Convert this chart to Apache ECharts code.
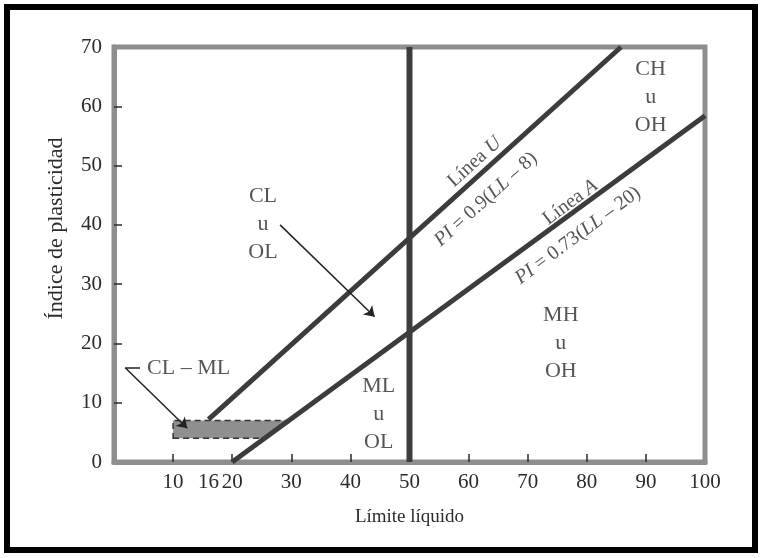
<!DOCTYPE html>
<html>
<head>
<meta charset="utf-8">
<script src="https://cdn.jsdelivr.net/npm/echarts@6/dist/echarts.min.js"></script>
<style>
  html, body { margin: 0; background: #fff; }
  #chart { width: 764px; height: 558px; }
</style>
</head>
<body>
<div id="chart"></div>
<script>
// ejes
const xTickValues = [10, 20, 30, 40, 50, 60, 70, 80, 90];
const xLabelValues = [10, 16, 20, 30, 40, 50, 60, 70, 80, 90, 100];
const yTickValues = [10, 20, 30, 40, 50, 60];
// lineas del grafico de plasticidad
const lineU = [[16, 7.2], [85.8, 70]];      // PI = 0.9(LL - 8)
const lineA = [[20, 0], [100, 58.4]];       // PI = 0.73(LL - 20)
const lineLL50 = [[50, 0], [50, 70]];
const zoneCLML = [[10, 4], [25.5, 4], [29.6, 7], [10, 7]];
// textos de zonas [LL, PI, texto]
const zoneLabels = [
  [25.2, 40.1, 'CL\nu\nOL'],
  [44.8, 8.0, 'ML\nu\nOL'],
  [75.6, 20.0, 'MH\nu\nOH'],
  [90.8, 61.6, 'CH\nu\nOH']
];
// textos girados [LL, PI, texto, angulo]
const lineLabels = [
  [61.0, 50.6, 'Línea {i|U}', 42],
  [62.9, 44.3, '{i|PI} = 0.9({i|LL} – 8)', 42],
  [77.2, 43.8, 'Línea {i|A}', 36.5],
  [78.5, 38.2, '{i|PI} = 0.73({i|LL} – 20)', 36.5]
];
// flechas
const arrowCLOL = [[28.1, 40], [44.1, 24.5]];
const leaderCLML = [[4.4, 15.9], [1.9, 15.9], [12.4, 5.7]];

const serif = 'Liberation Serif';
const ink = '#2b2b2b';
const lineCol = '#3c3c3c';
const frameCol = '#8e8e8e';

const myChart = echarts.init(document.getElementById('chart'));
myChart.setOption({
  animation: false,
  textStyle: { fontFamily: serif },
  grid: {
    left: 114, right: 59, top: 47, bottom: 96,
    show: true, borderColor: frameCol, borderWidth: 5
  },
  xAxis: {
    type: 'value', min: 0, max: 100,
    name: 'Límite líquido', nameLocation: 'middle', nameGap: 46,
    nameTextStyle: { fontFamily: serif, fontSize: 19, color: ink },
    axisLine: { show: true, lineStyle: { color: frameCol, width: 5 } },
    axisTick: { show: true, inside: true, length: 8, customValues: xTickValues,
      lineStyle: { color: ink, width: 1.5 } },
    axisLabel: { customValues: xLabelValues, margin: 10, fontFamily: serif, fontSize: 21, color: ink },
    splitLine: { show: false }
  },
  yAxis: {
    type: 'value', min: 0, max: 70, interval: 10,
    name: 'Índice de plasticidad', nameLocation: 'middle', nameGap: 47, nameRotate: 90,
    nameTextStyle: { fontFamily: serif, fontSize: 22, color: ink, padding: [0, 0, 0, 52] },
    axisLine: { show: true, lineStyle: { color: frameCol, width: 5 } },
    axisTick: { show: true, inside: true, length: 8, customValues: yTickValues,
      lineStyle: { color: ink, width: 1.5 } },
    axisLabel: { margin: 12, fontFamily: serif, fontSize: 21, color: ink },
    splitLine: { show: false }
  },
  graphic: [{
    type: 'rect', shape: { x: 7, y: 7, width: 748, height: 543 },
    style: { fill: 'none', stroke: '#000', lineWidth: 6 }, silent: true
  }],
  series: [
    {
      type: 'custom',
      data: [0],
      renderItem: (params, api) => ({
        type: 'polygon',
        shape: { points: zoneCLML.map(p => api.coord(p)) },
        style: { fill: '#8f8f8f', stroke: '#333', lineWidth: 1.5, lineDash: [6, 4] }
      }),
      z: 2
    },
    {
      type: 'line', data: lineA, showSymbol: false, symbol: 'none',
      lineStyle: { color: lineCol, width: 5 }, z: 3
    },
    {
      type: 'line', data: lineU, showSymbol: false, symbol: 'none',
      lineStyle: { color: lineCol, width: 5 }, z: 3
    },
    {
      type: 'line', data: lineLL50, showSymbol: false, symbol: 'none',
      lineStyle: { color: lineCol, width: 6 }, z: 3
    },
    {
      type: 'line', data: [], symbol: 'none',
      markLine: {
        silent: true, animation: false,
        label: { show: false },
        lineStyle: { color: '#222', width: 1.5, type: 'solid' },
        data: [
          [{ coord: arrowCLOL[0], symbol: 'none' }, { coord: arrowCLOL[1], symbol: 'arrow', symbolSize: 10 }],
          [{ coord: leaderCLML[0], symbol: 'none' }, { coord: leaderCLML[1], symbol: 'none' }],
          [{ coord: leaderCLML[1], symbol: 'none' }, { coord: leaderCLML[2], symbol: 'arrow', symbolSize: 10 }]
        ]
      }
    },
    {
      type: 'scatter', symbolSize: 0, z: 5,
      data: zoneLabels.map(d => [d[0], d[1]]),
      label: {
        show: true, position: 'inside', align: 'center', verticalAlign: 'middle',
        fontFamily: serif, fontSize: 22, lineHeight: 28, color: ink,
        formatter: p => zoneLabels[p.dataIndex][2]
      }
    },
    {
      type: 'scatter', symbolSize: 0, z: 5,
      data: [[5.6, 15.9]],
      label: {
        show: true, position: 'right', distance: 0,
        fontFamily: serif, fontSize: 22, color: ink,
        formatter: 'CL – ML'
      }
    },
    {
      type: 'scatter', symbolSize: 0, z: 5,
      data: lineLabels.map(d => ({
        value: [d[0], d[1]],
        label: { rotate: d[3], formatter: d[2] }
      })),
      label: {
        show: true, position: 'inside', align: 'center', verticalAlign: 'middle',
        fontFamily: serif, fontSize: 20, color: ink,
        rich: { i: { fontFamily: serif, fontSize: 20, fontStyle: 'italic', color: ink } }
      }
    }
  ]
});
</script>
</body>
</html>
